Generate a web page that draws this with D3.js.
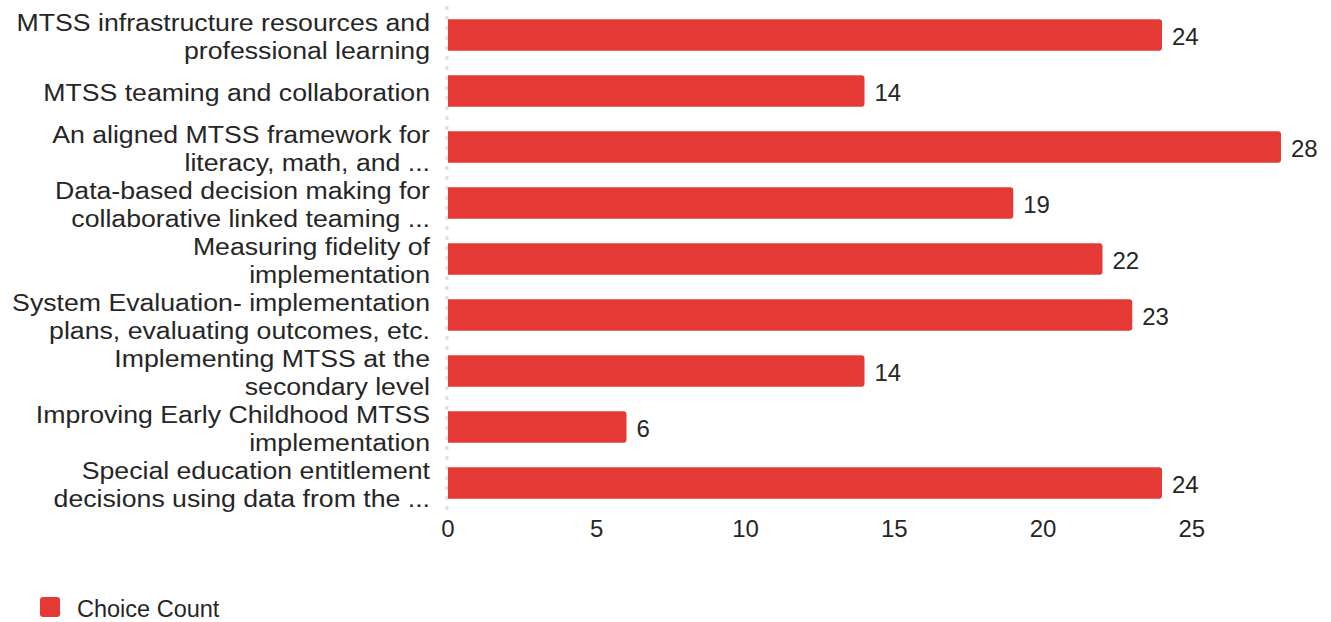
<!DOCTYPE html>
<html>
<head>
<meta charset="utf-8">
<script src="https://cdn.jsdelivr.net/npm/d3@7"></script>
<style>
  body { margin: 0; background: #fff; }
  text { font-family: "Liberation Sans", Arial, sans-serif; fill: #262626; }
</style>
</head>
<body>
<div id="chart"></div>
<script>
function init(){

var w = 1331;
var h = 622;

// category labels, already wrapped / truncated as in the source
var categories = [
  "MTSS infrastructure resources and\nprofessional learning",
  "MTSS teaming and collaboration",
  "An aligned MTSS framework for\nliteracy, math, and ...",
  "Data-based decision making for\ncollaborative linked teaming ...",
  "Measuring fidelity of\nimplementation",
  "System Evaluation- implementation\nplans, evaluating outcomes, etc.",
  "Implementing MTSS at the\nsecondary level",
  "Improving Early Childhood MTSS\nimplementation",
  "Special education entitlement\ndecisions using data from the ..."
];
var counts = [24, 14, 28, 19, 22, 23, 14, 6, 24];
var ticks = [0, 5, 10, 15, 20, 25];
var seriesName = "Choice Count";
var barColor = "#e53935";

var left = 448, right = 1281, top = 7, bottom = 511;

var x = d3.scaleLinear()
          .domain([0, d3.max(counts)])
          .range([left, right]);

var y = d3.scaleBand()
          .domain(d3.range(categories.length))
          .range([top, bottom])
          .paddingInner(0.44)
          .paddingOuter(0.22);

var svg = d3.select("#chart")
            .append("svg")
            .attr("width", w)
            .attr("height", h);

// dotted baseline at zero
svg.append("line")
   .attr("x1", x(0) - 1).attr("x2", x(0) - 1)
   .attr("y1", 6).attr("y2", 513)
   .attr("stroke", "#e0e0e0")
   .attr("stroke-width", 3)
   .attr("stroke-dasharray", "4,6");

// bars with slightly rounded right end
svg.selectAll("path.bar")
   .data(counts)
   .enter()
   .append("path")
   .attr("class", "bar")
   .attr("fill", barColor)
   .attr("d", function(d, i) {
     var x0 = x(0), x1 = x(d), y0 = y(i), bh = y.bandwidth(), r = 3;
     return "M" + x0 + "," + y0 +
            "H" + (x1 - r) +
            "Q" + x1 + "," + y0 + " " + x1 + "," + (y0 + r) +
            "V" + (y0 + bh - r) +
            "Q" + x1 + "," + (y0 + bh) + " " + (x1 - r) + "," + (y0 + bh) +
            "H" + x0 + "Z";
   });

// value labels
svg.selectAll("text.value")
   .data(counts)
   .enter()
   .append("text")
   .attr("class", "value")
   .attr("x", function(d) { return x(d) + 10; })
   .attr("y", function(d, i) { return y(i) + y.bandwidth() / 2 + 2; })
   .attr("dy", "0.35em")
   .style("font-size", "24px")
   .text(function(d) { return d; });

// category labels (the source font is a bit wider, so stretch horizontally)
var labels = svg.selectAll("text.cat")
   .data(categories)
   .enter()
   .append("text")
   .attr("class", "cat")
   .attr("text-anchor", "end")
   .attr("transform", function(d, i) {
     return "translate(430," + (y(i) + y.bandwidth() / 2 + 1.5) + ") scale(1.16,1)";
   })
   .style("font-size", "23px");

labels.each(function(d) {
  var lines = d.split("\n");
  var lh = 28;
  var t = d3.select(this);
  lines.forEach(function(line, j) {
    t.append("tspan")
     .attr("x", 0)
     .attr("y", (j - (lines.length - 1) / 2) * lh)
     .attr("dy", "0.35em")
     .text(line);
  });
});

// x axis tick labels
svg.selectAll("text.tick")
   .data(ticks)
   .enter()
   .append("text")
   .attr("class", "tick")
   .attr("x", function(d) { return x(d); })
   .attr("y", 529)
   .attr("dy", "0.35em")
   .attr("text-anchor", "middle")
   .style("font-size", "24px")
   .text(function(d) { return d; });

// legend
var legend = svg.append("g").attr("transform", "translate(40,597)");
legend.append("rect")
      .attr("width", 20).attr("height", 20)
      .attr("rx", 3)
      .attr("fill", barColor);
legend.append("text")
      .attr("x", 37).attr("y", 12)
      .attr("dy", "0.35em")
      .style("font-size", "23.5px")
      .text(seriesName);
}
window.onload = init;
</script>
</body>
</html>
